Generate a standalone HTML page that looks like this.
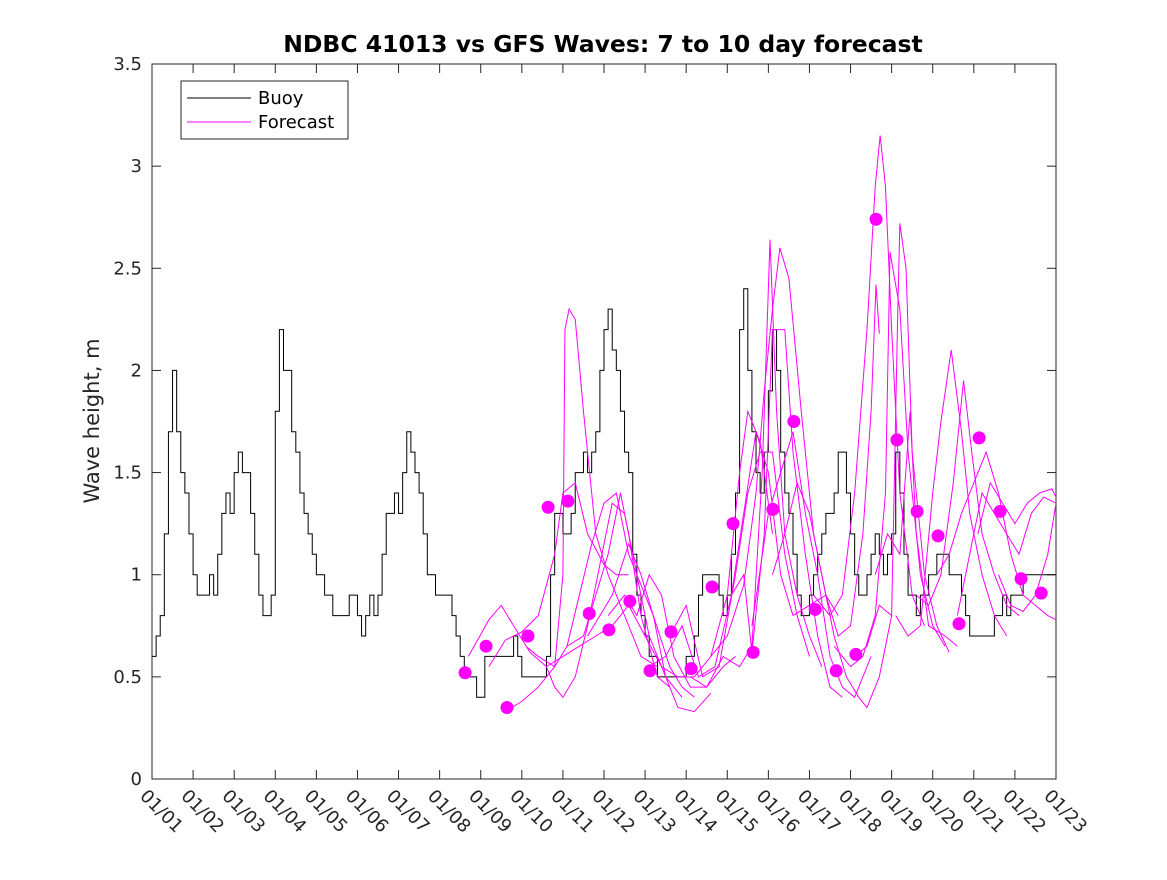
<!DOCTYPE html>
<html><head><meta charset="utf-8"><style>
body{margin:0;background:#fff}
text{font-family:"DejaVu Sans","Liberation Sans",sans-serif}
</style></head><body>
<svg id="c" width="1167" height="875" xmlns="http://www.w3.org/2000/svg">
<rect x="0" y="0" width="1167" height="875" fill="#fff"/>
<text x="603" y="52" text-anchor="middle" font-size="23.5" font-weight="bold">NDBC 41013 vs GFS Waves: 7 to 10 day forecast</text>
<text transform="translate(99,421) rotate(-90)" text-anchor="middle" font-size="21" fill="#262626">Wave height, m</text>
<g id="plot"></g>
</svg>
<script>
const xTickLabels=["01/01","01/02","01/03","01/04","01/05","01/06","01/07","01/08","01/09","01/10","01/11","01/12","01/13","01/14","01/15","01/16","01/17","01/18","01/19","01/20","01/21","01/22","01/23"];
const yTicks=[0,0.5,1,1.5,2,2.5,3,3.5];
const yTickLabels=["0","0.5","1","1.5","2","2.5","3","3.5"];
const buoyStep=0.1;
const buoyValues=[0.6,0.7,0.8,1.2,1.7,2.0,1.7,1.5,1.4,1.2,1.0,0.9,0.9,0.9,1.0,0.9,1.1,1.3,1.4,1.3,1.5,1.6,1.5,1.5,1.3,1.1,0.9,0.8,0.8,0.9,1.8,2.2,2.0,2.0,1.7,1.6,1.4,1.3,1.2,1.1,1.0,1.0,0.9,0.9,0.8,0.8,0.8,0.8,0.9,0.9,0.8,0.7,0.8,0.9,0.8,0.9,1.1,1.3,1.3,1.4,1.3,1.5,1.7,1.6,1.5,1.4,1.2,1.0,1.0,0.9,0.9,0.9,0.9,0.8,0.7,0.6,0.5,0.5,0.5,0.4,0.4,0.6,0.6,0.6,0.6,0.6,0.6,0.6,0.7,0.6,0.5,0.5,0.5,0.5,0.5,0.5,0.6,1.0,1.3,1.3,1.2,1.2,1.3,1.5,1.5,1.6,1.5,1.6,1.7,2.0,2.2,2.3,2.1,2.0,1.8,1.6,1.5,1.1,0.9,0.8,0.7,0.6,0.6,0.5,0.5,0.5,0.5,0.5,0.5,0.5,0.6,0.6,0.7,0.9,1.0,1.0,1.0,1.0,0.9,0.8,0.9,1.1,1.4,2.2,2.4,2.0,1.7,1.5,1.4,1.6,1.9,2.2,2.0,1.6,1.4,1.3,1.1,0.9,0.8,0.8,0.9,1.0,1.1,1.2,1.3,1.3,1.4,1.6,1.6,1.4,1.2,1.0,0.9,0.9,1.0,1.1,1.2,1.1,1.0,1.1,1.2,1.6,1.4,1.1,0.9,0.9,0.8,0.9,0.9,1.0,1.0,1.1,1.1,1.1,1.0,1.0,1.0,0.9,0.8,0.7,0.7,0.7,0.7,0.7,0.7,0.8,0.8,0.9,0.8,0.9,0.9,0.9,1.0,1.0,1.0,1.0,1.0,1.0,1.0,1.0];
const dotDays=[7.62,8.13,8.64,9.15,9.64,10.12,10.64,11.12,11.63,12.12,12.63,13.12,13.63,14.14,14.63,15.11,15.62,16.14,16.65,17.13,17.62,18.13,18.62,19.13,19.64,20.13,20.64,21.15,21.64];
const dotValues=[0.52,0.65,0.35,0.70,1.33,1.36,0.81,0.73,0.87,0.53,0.72,0.54,0.94,1.25,0.62,1.32,1.75,0.83,0.53,0.61,2.74,1.66,1.31,1.19,0.76,1.67,1.31,0.98,0.91];
const forecastDays=[
[7.7,8.2,8.5,8.8,9.2,9.6,10.0,10.4,10.8,11.2,11.6],
[8.2,8.6,9.0,9.4,9.8,10.0,10.3,10.6,11.0,11.3,11.6],
[8.6,9.0,9.4,9.8,10.0,10.05,10.15,10.3,10.5,10.8,11.1,11.5,11.9,12.3],
[9.1,9.4,9.8,10.1,10.5,10.8,11.1,11.4,11.6,11.9,12.3,12.6],
[9.6,9.8,10.0,10.3,10.6,10.9,11.2,11.5,11.8,12.1,12.5,12.9],
[10.1,10.4,10.7,11.0,11.3,11.6,11.9,12.2,12.6,12.9,13.2],
[10.6,10.9,11.2,11.6,11.9,12.2,12.5,12.8,13.2,13.6],
[11.1,11.5,11.8,12.1,12.4,12.7,13.1,13.5,13.9,14.2],
[11.6,12.0,12.4,12.8,13.2,13.6,14.0,14.3,14.5,14.8,15.1],
[12.1,12.5,12.9,13.3,13.7,14.1,14.4,14.7,15.0,15.3,15.6],
[12.6,13.0,13.4,13.8,14.2,14.5,14.8,15.1,15.4,15.7,16.0],
[13.1,13.5,13.9,14.3,14.6,14.85,15.04,15.2,15.4,15.7,16.0,16.3],
[13.6,14.0,14.4,14.7,14.9,15.1,15.28,15.5,15.8,16.1,16.4,16.7],
[14.1,14.4,14.6,14.9,15.1,15.4,15.6,15.9,16.2,16.5,16.8],
[14.6,15.0,15.3,15.6,15.9,16.2,16.5,16.8,17.1,17.5],
[15.1,15.4,15.7,16.0,16.3,16.6,16.9,17.2,17.4,17.7,18.0],
[15.6,16.0,16.4,16.7,17.0,17.3,17.5,17.62,17.7],
[16.1,16.5,16.8,17.1,17.4,17.6,17.72,17.85,18.0,18.2,18.5,18.8],
[16.6,17.0,17.3,17.6,17.85,17.96,18.2,18.4,18.7,19.0,19.3],
[17.1,17.4,17.7,18.0,18.15,18.2,18.35,18.5,18.8,19.1,19.4],
[17.6,17.9,18.2,18.45,18.6,18.9,19.3,19.6],
[18.1,18.4,18.7,19.0,19.2,19.45,19.7,19.9,20.2,20.5,20.8],
[18.6,18.9,19.2,19.5,19.75,19.95,20.2,20.5,20.8,21.1],
[19.1,19.4,19.7,20.0,20.3,20.6,20.9,21.2,21.5,21.8,22.0],
[19.6,19.9,20.2,20.5,20.8,21.1,21.4,21.7,22.0],
[20.1,20.4,20.7,21.0,21.3,21.6,21.9,22.0],
[20.6,20.9,21.2,21.5,21.8,22.0]];
const forecastValues=[
[0.6,0.78,0.85,0.75,0.62,0.55,0.6,0.65,0.7,0.75,0.85],
[0.55,0.68,0.72,0.8,1.1,1.4,1.45,1.2,1.05,1.0,1.0],
[0.33,0.38,0.45,0.55,1.0,2.2,2.3,2.25,1.8,1.2,1.0,0.8,0.6,0.55],
[0.65,0.6,0.55,0.65,0.7,0.9,1.1,1.4,1.2,0.8,0.5,0.45],
[0.55,0.45,0.4,0.5,0.75,1.05,1.35,1.3,1.0,0.7,0.5,0.4],
[0.65,0.9,1.15,1.35,1.4,1.1,0.95,0.8,0.55,0.45,0.4],
[0.7,0.8,0.9,1.15,1.0,0.8,0.5,0.35,0.33,0.42],
[0.8,0.9,0.8,1.0,0.9,0.6,0.45,0.45,0.55,0.6],
[0.85,0.7,0.55,0.5,0.5,0.6,0.9,1.5,1.8,1.65,1.2],
[0.55,0.6,0.75,0.5,0.55,0.9,1.3,1.7,1.5,1.0,0.8],
[0.7,0.85,0.5,0.55,1.0,1.4,1.6,1.6,1.1,0.8,0.6],
[0.5,0.45,0.6,0.55,0.65,1.5,2.64,1.8,1.2,0.9,0.7,0.55],
[0.6,0.7,0.95,1.4,1.9,2.3,2.6,2.45,1.8,1.2,0.9,0.8],
[0.9,1.0,0.62,1.2,2.2,2.2,1.6,1.1,0.7,0.45,0.4],
[0.75,1.3,1.5,1.7,1.3,1.0,0.6,0.45,0.4,0.6],
[1.0,1.2,1.45,1.3,1.0,0.7,0.5,0.4,0.35,0.5,0.8],
[0.8,0.85,0.9,0.7,0.75,1.2,1.8,2.42,2.18],
[0.9,0.8,0.9,1.4,2.2,2.9,3.15,2.9,2.2,1.4,0.9,0.75],
[0.65,0.55,0.6,0.8,1.4,2.58,2.3,1.6,1.0,0.75,0.65],
[0.6,0.65,0.85,0.8,2.3,2.72,2.5,1.6,1.0,0.75,0.62],
[1.0,1.2,1.1,1.8,1.2,0.75,0.7,0.65],
[0.8,0.7,0.75,1.4,1.75,2.1,1.7,1.3,1.0,0.8,0.7],
[0.9,0.85,1.0,1.45,1.95,1.6,1.2,1.0,0.85,0.8],
[1.0,1.1,1.3,1.45,1.6,1.4,1.1,0.9,0.85,0.8,0.78],
[0.8,1.1,1.4,1.3,1.2,1.1,1.3,1.38,1.35],
[1.2,1.45,1.35,1.25,1.35,1.4,1.42,1.38],
[1.0,0.85,0.82,0.9,1.1,1.35]];

const NS='http://www.w3.org/2000/svg';
const L=152,R=1056,T=64,B=779;
const xS=d=>L+(R-L)*d/22;
const yS=v=>B-(B-T)*v/3.5;
const g=document.getElementById('plot');
function mk(t,a){const e=document.createElementNS(NS,t);for(const k in a)e.setAttribute(k,a[k]);g.appendChild(e);return e;}

const fr=mk('rect',{x:L,y:T,width:R-L,height:B-T,fill:'none',stroke:'#262626','stroke-width':1});



xTickLabels.forEach((lab,i)=>{
  const x=xS(i);
  const t1=mk('line',{x1:x,y1:B,x2:x,y2:B-9,stroke:'#262626'});
  
  
  const t2=mk('line',{x1:x,y1:T,x2:x,y2:T+9,stroke:'#262626'});
  
  
  const tx=mk('text',{transform:`translate(${x-13},${B+18}) rotate(45)`,'font-size':18,fill:'#262626'});
  tx.textContent=lab;
  
  
});
yTicks.forEach((v,i)=>{
  const y=yS(v);
  const t1=mk('line',{x1:L,y1:y,x2:L+9,y2:y,stroke:'#262626'});
  
  
  const t2=mk('line',{x1:R,y1:y,x2:R-9,y2:y,stroke:'#262626'});
  
  
  const tx=mk('text',{x:L-10,y:y+6,'text-anchor':'end','font-size':18,fill:'#262626'});
  tx.textContent=yTickLabels[i];
  
  
});

let d='';
buoyValues.forEach((v,i)=>{
  const x0=xS(i*buoyStep),x1=xS(Math.min(22,(i+1)*buoyStep)),y=yS(v);
  d+=(i===0?`M${x0},${y}`:`V${y}`)+`H${x1}`;
});
const bl=mk('path',{d:d,fill:'none',stroke:'#000','stroke-width':1});



forecastDays.forEach((days,j)=>{
  const pts=days.map((dd,i)=>xS(dd)+','+yS(forecastValues[j][i])).join(' ');
  const pl=mk('polyline',{points:pts,fill:'none',stroke:'#ff00ff','stroke-width':1});
  
  
});
dotDays.forEach((dd,i)=>{
  const c=mk('circle',{cx:xS(dd),cy:yS(dotValues[i]),r:6.5,fill:'#ff00ff'});
  
  
});

const lg=mk('rect',{x:181,y:81,width:167,height:58,fill:'#fff',stroke:'#262626','stroke-width':1});


const l1=mk('line',{x1:187,y1:98,x2:251,y2:98,stroke:'#000'});


const t1=mk('text',{x:258,y:104,'font-size':18});
t1.textContent='Buoy';


const l2=mk('line',{x1:187,y1:122,x2:251,y2:122,stroke:'#ff00ff'});


const t2=mk('text',{x:258,y:128,'font-size':18});
t2.textContent='Forecast';


</script>
</body></html>
